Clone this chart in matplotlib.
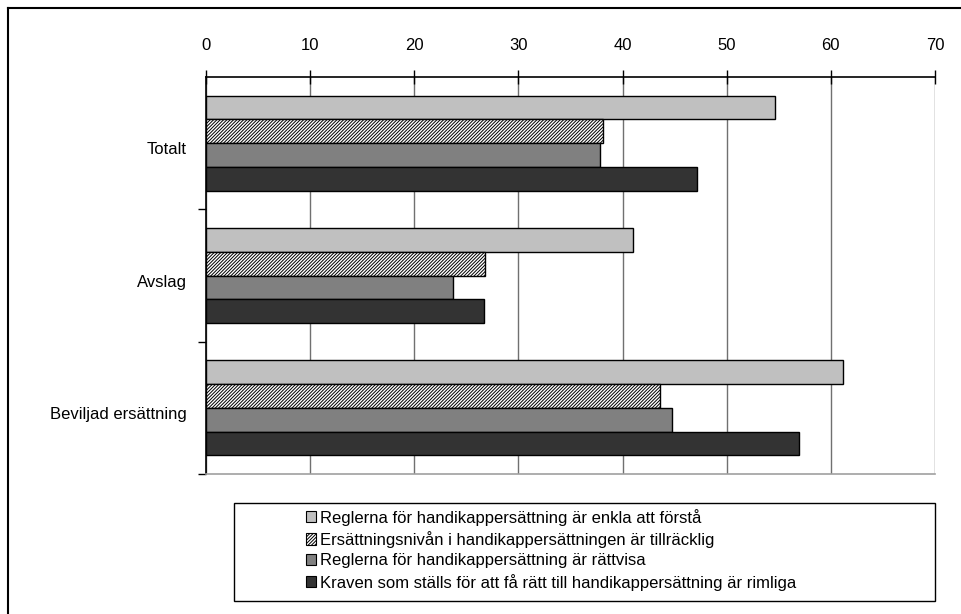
import numpy as np
import matplotlib
matplotlib.use('Agg')
import matplotlib.pyplot as plt
from matplotlib.patches import Rectangle
from matplotlib.lines import Line2D

plt.rcParams['font.family'] = ['Liberation Sans', 'DejaVu Sans']
plt.rcParams['hatch.linewidth'] = 0.7

categories = ['Totalt', 'Avslag', 'Beviljad ersättning']
series_names = [
    'Reglerna för handikappersättning är enkla att förstå',
    'Ersättningsnivån i handikappersättningen är tillräcklig',
    'Reglerna för handikappersättning är rättvisa',
    'Kraven som ställs för att få rätt till handikappersättning är rimliga',
]
enkla = [54.6, 41.0, 61.2]
tillracklig = [38.1, 26.8, 43.6]
rattvisa = [37.8, 23.7, 44.7]
rimliga = [47.1, 26.7, 56.9]
series_values = [enkla, tillracklig, rattvisa, rimliga]

colors = ['#c0c0c0', 'white', '#808080', '#333333']
hatches = [None, '//////////', None, None]

W, H = 962, 614
fig = plt.figure(figsize=(W / 100, H / 100), dpi=100)
ax = fig.add_axes([206 / W, 1 - 474 / H, (935 - 206) / W, (474 - 77) / H])

y = np.arange(len(categories))
bh = 0.18
offsets = (np.arange(4) - 1.5) * bh
handles = []
for vals, off, c, h, name in zip(series_values, offsets, colors, hatches, series_names):
    b = ax.barh(y + off, vals, height=bh, color=c, hatch=h,
                edgecolor='black', linewidth=1.0, label=name, zorder=3)
    handles.append(b)

ax.set_xlim(0, 70)
ax.set_ylim(-0.5, 2.5)
ax.invert_yaxis()

# value axis on top, gridlines at every 10
ax.xaxis.tick_top()
ax.set_xticks(np.arange(0, 71, 10))
ax.tick_params(axis='x', direction='inout', length=10, width=1.0,
               labelsize=12, pad=12, colors='black')
ax.xaxis.grid(True, color='#707070', linewidth=1.0, zorder=0)

# category labels centred, ticks between groups
ax.set_yticks([0.5, 1.5, 2.5], minor=False)
ax.set_yticklabels([])
ax.set_yticks(y + 0.04, minor=True)
ax.set_yticklabels(categories, minor=True, fontsize=12)
ax.tick_params(axis='y', which='minor', length=0, pad=14)
ax.tick_params(axis='y', which='major', direction='out', length=6, width=1.0)

ax.spines['right'].set_visible(False)
ax.spines['top'].set_linewidth(1.2)
ax.spines['left'].set_linewidth(1.2)
ax.spines['bottom'].set_color('#a0a0a0')
ax.spines['bottom'].set_linewidth(1.2)

# legend frame and entries
fig.add_artist(Rectangle((234 / W, 1 - 601 / H), (935 - 234) / W, (601 - 503) / H,
                         transform=fig.transFigure, facecolor='none',
                         edgecolor='black', linewidth=1.0))
leg = fig.legend(handles=handles, loc='upper left',
                 bbox_to_anchor=(294 / W, 1 - 497 / H), frameon=False,
                 fontsize=12, handlelength=0.65, handleheight=0.65,
                 handletextpad=0.2, labelspacing=0.32, borderpad=0.2)
for p in leg.get_patches():
    p.set_linewidth(0.8)

# outer chart frame
fig.add_artist(Line2D([8 / W, 1.0], [1 - 8 / H, 1 - 8 / H],
                      transform=fig.transFigure, color='black', linewidth=1.5))
fig.add_artist(Line2D([8 / W, 8 / W], [0.0, 1 - 8 / H],
                      transform=fig.transFigure, color='black', linewidth=1.5))

fig.savefig('out.png', dpi=100)
